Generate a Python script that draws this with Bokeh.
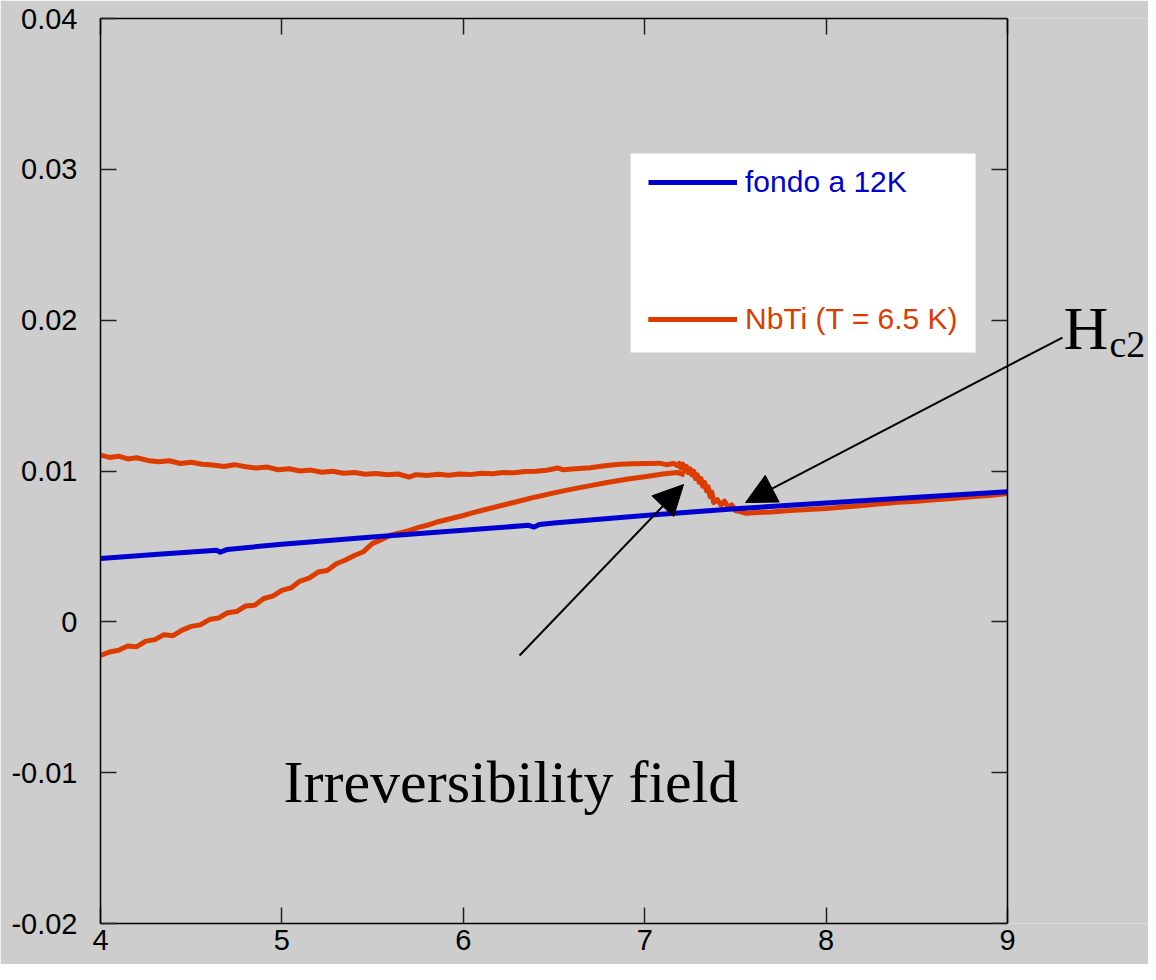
from bokeh.plotting import figure
from bokeh.models import (LinearAxis, FixedTicker, Label, Arrow, NormalHead,
                          BoxAnnotation, Legend, LegendItem, Range1d,
                          CustomLabelingPolicy)
from bokeh.embed import file_html
from bokeh.resources import INLINE

# ---------------- data ----------------
x_ticks = [4, 5, 6, 7, 8, 9]
x_tick_labels = ["4", "5", "6", "7", "8", "9"]
y_ticks = [-0.02, -0.01, 0, 0.01, 0.02, 0.03, 0.04]
y_tick_labels = ["-0.02", "-0.01", "0", "0.01", "0.02", "0.03", "0.04"]

series_names = ["fondo a 12K", "NbTi (T = 6.5 K)"]

# background at 12 K
bg_field = [4.00, 4.30, 4.60, 4.64, 4.66, 4.70, 5.00, 5.50, 6.00, 6.36,
            6.39, 6.42, 6.50, 7.00, 7.50, 8.00, 8.50, 9.00]
bg_moment = [0.00420, 0.00447, 0.00472, 0.00474, 0.00462, 0.00480, 0.00515,
             0.00562, 0.00607, 0.00640, 0.00628, 0.00646, 0.00655, 0.00705,
             0.00750, 0.00788, 0.00826, 0.00862]

# NbTi upper branch (incl. drop and reversible part)
up_field = [4.00, 4.05, 4.10, 4.15, 4.20, 4.26, 4.32, 4.38, 4.44, 4.50,
            4.56, 4.62, 4.68, 4.74, 4.80, 4.86, 4.92, 4.98, 5.04, 5.10,
            5.16, 5.22, 5.28, 5.34, 5.40, 5.46, 5.52, 5.58, 5.64, 5.70,
            5.74, 5.80, 5.86, 5.92, 5.98, 6.04, 6.10, 6.16, 6.22, 6.28,
            6.34, 6.40, 6.46, 6.52, 6.55, 6.62, 6.70, 6.78, 6.86, 6.94,
            7.02, 7.08, 7.12, 7.16, 7.18, 7.19, 7.20, 7.21, 7.22, 7.23,
            7.24, 7.25, 7.26, 7.27, 7.28, 7.29, 7.30, 7.31, 7.32, 7.33,
            7.34, 7.35, 7.36, 7.37, 7.38, 7.40, 7.42, 7.44, 7.46, 7.48,
            7.50, 7.53, 7.56, 7.62, 7.70, 7.80, 7.90, 8.00, 8.10, 8.20,
            8.30, 8.40, 8.50, 8.60, 8.70, 8.80, 8.90, 9.00]
up_moment = [0.01105, 0.01090, 0.01098, 0.01080, 0.01088, 0.01070, 0.01062,
             0.01068, 0.01050, 0.01058, 0.01045, 0.01040, 0.01030, 0.01042,
             0.01028, 0.01020, 0.01026, 0.01008, 0.01015, 0.01000, 0.01006,
             0.00992, 0.00998, 0.00985, 0.00990, 0.00978, 0.00984, 0.00975,
             0.00980, 0.00960, 0.00976, 0.00970, 0.00978, 0.00972, 0.00980,
             0.00976, 0.00985, 0.00982, 0.00990, 0.00988, 0.00996, 0.00998,
             0.01005, 0.01020, 0.01008, 0.01015, 0.01022, 0.01035, 0.01045,
             0.01048, 0.01050, 0.01052, 0.01042, 0.01050, 0.01035, 0.01050,
             0.01020, 0.01045, 0.01005, 0.01030, 0.00990, 0.01015, 0.00975,
             0.01000, 0.00950, 0.00975, 0.00925, 0.00950, 0.00900, 0.00925,
             0.00870, 0.00895, 0.00830, 0.00860, 0.00790, 0.00810, 0.00775,
             0.00800, 0.00760, 0.00775, 0.00738, 0.00730, 0.00720, 0.00725,
             0.00728, 0.00738, 0.00745, 0.00752, 0.00762, 0.00772, 0.00782,
             0.00792, 0.00800, 0.00810, 0.00818, 0.00830, 0.00838, 0.00850]

# NbTi lower branch
low_field = [4.00, 4.05, 4.10, 4.15, 4.20, 4.25, 4.30, 4.35, 4.40, 4.45,
             4.50, 4.55, 4.60, 4.65, 4.70, 4.75, 4.80, 4.85, 4.90, 4.95,
             5.00, 5.05, 5.10, 5.15, 5.20, 5.25, 5.30, 5.35, 5.40, 5.45,
             5.50, 5.55, 5.60, 5.65, 5.70, 5.75, 5.80, 5.85, 5.90, 5.95,
             6.00, 6.05, 6.10, 6.20, 6.30, 6.40, 6.50, 6.60, 6.70, 6.80,
             6.90, 7.00, 7.10, 7.18, 7.22]
low_moment = [-0.00223, -0.00200, -0.00188, -0.00160, -0.00165, -0.00128,
              -0.00118, -0.00085, -0.00092, -0.00055, -0.00030, -0.00020,
              0.00015, 0.00025, 0.00060, 0.00068, 0.00105, 0.00110, 0.00155,
              0.00170, 0.00208, 0.00225, 0.00270, 0.00290, 0.00330, 0.00340,
              0.00385, 0.00410, 0.00440, 0.00465, 0.00520, 0.00545, 0.00575,
              0.00590, 0.00605, 0.00625, 0.00640, 0.00660, 0.00675, 0.00690,
              0.00705, 0.00722, 0.00738, 0.00768, 0.00798, 0.00828, 0.00855,
              0.00880, 0.00903, 0.00925, 0.00945, 0.00962, 0.00980, 0.00990,
              0.00975]

BLUE = "#0000d0"
ORANGE = "#dc3c00"
BG = "#cdcdcd"
SANS = "Liberation Sans"
SERIF = "Liberation Serif"

W, H = 1148, 964
LEFT, TOP, BOTTOM_PX = 100, 18, 923
PX_PER_UNIT = 907 / 5.0
x_end = 4 + (W - LEFT) / PX_PER_UNIT

p = figure(width=W, height=H, x_range=Range1d(4, x_end), y_range=Range1d(-0.02, 0.04),
           output_backend="svg", toolbar_location=None,
           min_border_left=LEFT, min_border_right=0, min_border_top=TOP,
           min_border_bottom=H - BOTTOM_PX)
p.background_fill_color = BG
p.border_fill_color = BG
p.outline_line_color = None
p.xgrid.visible = False
p.ygrid.visible = False

hide_policy = CustomLabelingPolicy(code="""
for (const i of indices) { indices.unset(i) }
return indices
""")

def style_axis(ax, ticks, labels, show_labels, standoff):
    ax.ticker = FixedTicker(ticks=ticks)
    ax.major_tick_in = 16
    ax.major_tick_out = 0
    ax.minor_tick_in = 0
    ax.minor_tick_out = 0
    ax.major_tick_line_color = "#222222"
    ax.major_tick_line_width = 1.5
    ax.axis_line_color = "black"
    ax.axis_line_width = 1.5
    if show_labels:
        ax.major_label_overrides = {t: l for t, l in zip(ticks, labels)}
        ax.major_label_text_font = SANS
        ax.major_label_text_font_size = "29px"
        ax.major_label_text_color = "black"
        ax.major_label_standoff = standoff
    else:
        ax.major_label_policy = hide_policy
        ax.major_label_standoff = 0

xa = p.xaxis[0]
style_axis(xa, x_ticks, x_tick_labels, True, 6)
xa.bounds = (4, 9)
style_axis(p.yaxis[0], y_ticks, y_tick_labels, True, 23)

top_ax = LinearAxis(bounds=(4, 9))
style_axis(top_ax, x_ticks, x_tick_labels, False, 0)
p.add_layout(top_ax, "above")
right_ax = LinearAxis(fixed_location=9)
style_axis(right_ax, y_ticks, y_tick_labels, False, 0)
p.add_layout(right_ax, "right")

# legend white box
p.add_layout(BoxAnnotation(left=6.922, right=8.824, bottom=0.01786, top=0.03105,
                           fill_color="white", fill_alpha=1.0, line_alpha=0,
                           level="underlay"))

r_up = p.line(up_field, up_moment, line_color=ORANGE, line_width=5, line_join="round")
r_low = p.line(low_field, low_moment, line_color=ORANGE, line_width=5, line_join="round")
r_bg = p.line(bg_field, bg_moment, line_color=BLUE, line_width=5, line_join="round")

for name, rends, color, loc in [(series_names[0], [r_bg], BLUE, (548, 724)),
                                (series_names[1], [r_up, r_low], ORANGE, (548, 587))]:
    lg = Legend(items=[LegendItem(label=name, renderers=rends)], location=loc,
                glyph_width=89, glyph_height=20, label_height=20, label_standoff=8,
                padding=0, margin=0, spacing=0,
                background_fill_alpha=0, border_line_alpha=0,
                label_text_font=SANS, label_text_font_size="30px",
                label_text_color=color)
    p.add_layout(lg, "center")

# arrows
p.add_layout(Arrow(end=NormalHead(size=30, fill_color="black", line_color="black"),
                   x_start=6.310, y_start=-0.00223, x_end=7.214, y_end=0.00910,
                   line_color="black", line_width=2))
p.add_layout(Arrow(end=NormalHead(size=30, fill_color="black", line_color="black"),
                   x_start=9.303, y_start=0.01885, x_end=7.556, y_end=0.00791,
                   line_color="black", line_width=2))

# annotation texts
p.add_layout(Label(x=5.009, y=-0.01060, text="Irreversibility field",
                   text_font=SERIF, text_font_size="60px", text_color="black",
                   text_baseline="alphabetic"))
p.add_layout(Label(x=9.309, y=0.01945, text="H",
                   text_font=SERIF, text_font_size="62px", text_color="black",
                   text_baseline="alphabetic"))
p.add_layout(Label(x=9.562, y=0.01845, text="c2",
                   text_font=SERIF, text_font_size="38px", text_color="black",
                   text_baseline="alphabetic"))

open("out.html", "w").write(file_html(p, INLINE))
